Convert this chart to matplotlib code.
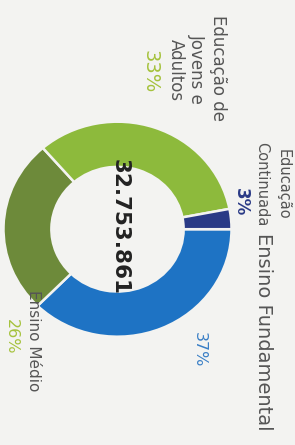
import matplotlib.pyplot as plt

# data (order drawn clockwise from 3 o'clock)
categories = ['Ensino Fundamental', 'Ensino Médio', 'Educação de Jovens e Adultos', 'Educação Continuada']
shares = [37, 26, 33, 3]
total_label = '32.753.861'

bg = '#f3f3f1'
slice_colors = ['#1e73c4', '#6d8a3a', '#8dba3c', '#2a3a86']
label_color = '#555555'

fig = plt.figure(figsize=(2.95, 4.45), dpi=100)
fig.patch.set_facecolor(bg)

# the ring (photo is slightly squashed, so the axes box is not square)
pie_ax = fig.add_axes([3.5 / 295, (445 - 336.7) / 445, 228 / 295, 215 / 445])
pie_ax.pie(shares, colors=slice_colors, startangle=0, counterclock=False,
           radius=1.0, wedgeprops=dict(width=0.42, edgecolor=bg, linewidth=1.8))
pie_ax.set_aspect('auto')
pie_ax.set_xlim(-1, 1)
pie_ax.set_ylim(-1, 1)
pie_ax.axis('off')

# overlay in pixel coordinates for the text (everything is rotated -90)
ax = fig.add_axes([0, 0, 1, 1])
ax.set_xlim(0, 295)
ax.set_ylim(445, 0)
ax.axis('off')
ax.patch.set_alpha(0)

def txt(x, y, s, size, color=label_color, weight='normal', va='center'):
    ax.text(x, y, s, rotation=-90, ha='center', va=va, fontsize=size,
            color=color, fontweight=weight, family='DejaVu Sans')

txt(120, 227, total_label, 15.5, color='#222222', weight='bold')

txt(283, 184, 'Educação', 10.5)
txt(262, 184, 'Continuada', 10.5)
txt(241, 202, f'{shares[3]}%', 12, color=slice_colors[3], weight='bold')

txt(264, 233, 'Ensino Fundamental', 14, va='top')
txt(199, 350, f'{shares[0]}%', 11.5, color='#3a7fc6')

txt(33, 290, 'Ensino Médio', 11, va='top')
txt(11, 337, f'{shares[1]}%', 11.5, color='#a5c23c')

txt(218, 68, 'Educação de', 12)
txt(197, 69, 'Jovens e', 12)
txt(176, 70, 'Adultos', 12)
txt(150, 72, f'{shares[2]}%', 14, color='#a5c23c')

fig.savefig('out.png', dpi=100, facecolor=bg)
